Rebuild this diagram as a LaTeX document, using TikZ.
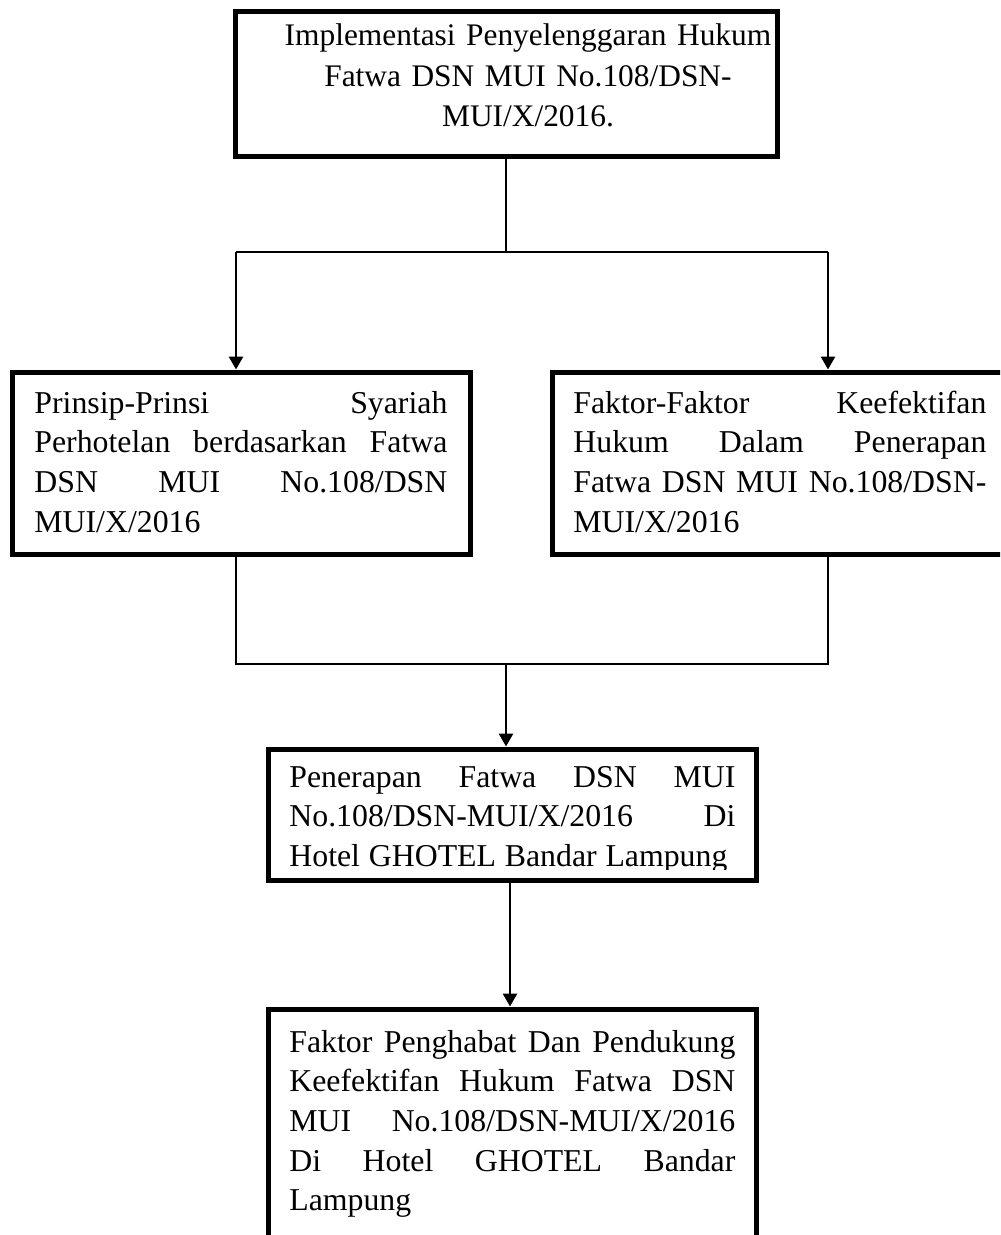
\documentclass[tikz,border=0pt]{standalone}
\usepackage{fontspec}
\setmainfont{Liberation Serif}
\usetikzlibrary{arrows.meta,fit}
\newcommand{\jla}[1]{\makebox[206.5pt][l]{#1}}
\newcommand{\jlb}[1]{\makebox[223pt][l]{#1}}
\newcommand{\jlc}[1]{\makebox[219pt][l]{#1}}
\begin{document}
\begin{tikzpicture}[x=0.5pt,y=-0.5pt,
  box/.style={draw=black,line width=2.5pt,inner sep=0pt},
  conn/.style={draw=black,line width=1.4pt},
  arr/.style={conn,-{Triangle[length=6.5pt,width=7pt]}},
  txt/.style={inner sep=0pt,anchor=base west,align=left,text width=#1,
    font=\fontsize{15.9}{19.85}\selectfont},
  ctxt/.style={inner sep=0pt,anchor=base,align=center,text width=250pt,
    font=\fontsize{15.7}{20.25}\selectfont}]
\useasboundingbox (0,0) rectangle (1000,1235);
\clip (0,0) rectangle (1000,1235);
% box corners (line centres)
\coordinate (a1) at (235,12);  \coordinate (a2) at (777,157);
\coordinate (b1) at (12,372);  \coordinate (b2) at (470,554);
\coordinate (c1) at (552,372); \coordinate (c2) at (1012,554);
\coordinate (d1) at (268,749); \coordinate (d2) at (756,880);
\coordinate (e1) at (268,1009);\coordinate (e2) at (756,1300);
\node[box,fit=(a1)(a2)] (top) {};
\node[box,fit=(b1)(b2)] (left) {};
\node[box,fit=(c1)(c2)] (right) {};
\node[box,fit=(d1)(d2)] (mid) {};
\node[box,fit=(e1)(e2)] (bot) {};
% texts
\node[ctxt] (t0) at (528,46) {Implementasi Penyelenggaran Hukum\\Fatwa DSN MUI No.108/DSN-\\MUI/X/2016.};
\node[txt=206.5pt] (t1) at (34,413) {\jla{Prinsip-Prinsi\hfill Syariah}\\\jla{Perhotelan\hfill berdasarkan\hfill Fatwa}\\\jla{DSN\hfill MUI\hfill No.108/DSN}\\MUI/X/2016};
\node[txt=206.5pt] (t2) at (573,413) {\jla{Faktor-Faktor\hfill Keefektifan}\\\jla{Hukum\hfill Dalam\hfill Penerapan}\\\jla{Fatwa\hfill DSN\hfill MUI\hfill No.108/DSN-}\\MUI/X/2016};
\begin{scope}
\clip (268,749) rectangle (756,869);
\node[txt=223pt] (t3) at (289,787) {\jlb{Penerapan\hfill Fatwa\hfill DSN\hfill MUI}\\\jlb{No.108/DSN-MUI/X/2016\hfill Di}\\\jlc{Hotel\hfill GHOTEL\hfill Bandar\hfill Lampung}};
\end{scope}
\node[txt=223pt] (t4) at (289,1052) {\jlb{Faktor\hfill Penghabat\hfill Dan\hfill Pendukung}\\\jlb{Keefektifan\hfill Hukum\hfill Fatwa\hfill DSN}\\\jlb{MUI\hfill No.108/DSN-MUI/X/2016}\\\jlb{Di\hfill Hotel\hfill GHOTEL\hfill Bandar}\\Lampung};
% connectors
\coordinate (j0) at (506,252);
\coordinate (jl) at (236,252);
\coordinate (jr) at (828,252);
\coordinate (kl) at (236,664);
\coordinate (kr) at (828,664);
\coordinate (k0) at (506,664);
\coordinate (m0) at (510,880);
\draw[conn] (top.south) -- (j0);
\draw[conn] (jl) -- (jr);
\draw[arr] (jl) -- (jl |- left.north);
\draw[arr] (jr) -- (jr |- right.north);
\draw[conn] (kl |- left.south) -- (kl) -- (kr) -- (kr |- right.south);
\draw[arr] (k0) -- (k0 |- mid.north);
\draw[arr] (m0 |- mid.south) -- (m0 |- bot.north);
\end{tikzpicture}
\end{document}
